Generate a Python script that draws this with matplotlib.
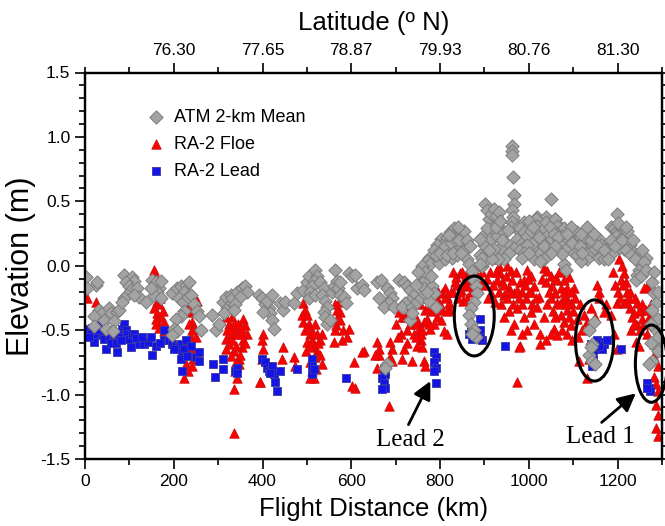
import matplotlib
matplotlib.use("Agg")
import matplotlib.pyplot as plt
from matplotlib.patches import Ellipse
from matplotlib.ticker import MultipleLocator, FixedLocator

plt.rcParams['font.family'] = ['Liberation Sans', 'DejaVu Sans']
plt.rcParams['axes.unicode_minus'] = False

# ---------------- data (km, m) ----------------
atm_km = [2,24,28,5,32,39,20,43,54,58,73,77,65,47,62,20,
          88,107,110,92,99,103,95,88,84,118,122,137,110,
          152,159,167,171,163,156,171,148,
          197,208,216,227,235,223,212,220,231,238,246,253,257,261,223,216,205,201,208,197,
          287,295,302,310,317,329,321,332,314,
          331,342,353,361,365,350,338,335,
          391,399,406,414,417,421,425,402,410,421,440,447,451,470,
          478,492,500,504,519,523,515,511,508,504,519,530,538,534,541,545,538,541,545,553,556,560,564,568,571,575,575,583,587,594,602,609,613,624,628,658,662,
          666,681,688,692,684,673,696,707,718,726,733,741,729,722,714,737,748,756,763,756,767,763,782,786,774,790,681,677,733,737,
          801,808,816,823,831,838,846,850,853,857,846,835,820,805,793,786,774,771,778,797,812,827,838,857,861,865,
          872,876,880,884,876,869,865,869,876,880,872,
          902,906,910,914,921,925,932,936,929,917,906,895,899,914,929,944,948,936,921,906,891,895,902,891,895,891,
          962,962,962,965,966,966,962,965,962,959,
          978,989,996,1000,981,974,985,993,966,981,
          1049,1199,1019,1038,1060,1068,
          981,989,996,1004,1015,1019,1026,1034,1038,1041,1030,1019,1008,996,989,985,1012,1026,1041,1045,1053,1060,1064,1072,1079,1075,1068,1079,1087,1094,1102,1109,1113,1105,1102,1109,1121,1124,1132,1128,1135,1143,1150,1158,1162,1165,1158,1169,1173,1181,1132,1117,1079,1083,1075,
          1184,1192,1199,1207,1214,1222,1196,1207,1218,1229,1226,1237,1244,1252,1263,1256,1248,1244,1241,1252,1214,1203,1192,1188,
          1278,1282,1286,1278,1290,1286,1282,1290,1278,1271,
          1147,1135,1143,1135,1143,1150,1139,
          790,800,810,815,825,830,835,842,848,855,860,868,820,840,760,765,750,745,770,780,
          940,952,955,945,930,918,910,925,935,
          1000,1010,1022,1035,1048,1056,1066,1090,1098,1115,1120,1140,1147,1155,1170,1178,1095,1085,1060,1050,1035,1025,1000,1118,1130,
          1185,1195,1210,1220,1230,1235,1240,1255,1260,1265,1200,1218,
          1282,1290,1275,1290,1276]
atm_elev = [-0.09,-0.15,-0.13,-0.17,-0.34,-0.37,-0.39,-0.42,-0.33,-0.37,-0.36,-0.34,-0.43,-0.49,-0.51,-0.47,
            -0.07,-0.09,-0.12,-0.13,-0.16,-0.19,-0.23,-0.25,-0.28,-0.17,-0.24,-0.28,-0.23,
            -0.11,-0.13,-0.17,-0.12,-0.20,-0.23,-0.25,-0.17,
            -0.21,-0.17,-0.16,-0.15,-0.13,-0.20,-0.25,-0.28,-0.24,-0.23,-0.30,-0.35,-0.39,-0.50,-0.35,-0.39,-0.41,-0.49,-0.51,-0.54,
            -0.38,-0.50,-0.45,-0.28,-0.24,-0.23,-0.33,-0.29,-0.37,
            -0.25,-0.20,-0.17,-0.16,-0.20,-0.24,-0.30,-0.34,
            -0.23,-0.25,-0.30,-0.33,-0.37,-0.42,-0.49,-0.36,-0.27,-0.23,-0.29,-0.34,-0.28,-0.29,
            -0.21,-0.19,-0.13,-0.08,-0.03,-0.08,-0.12,-0.16,-0.20,-0.25,-0.23,-0.13,-0.17,-0.23,-0.27,-0.32,-0.36,-0.40,-0.45,-0.42,-0.20,-0.16,-0.03,-0.12,-0.17,-0.13,-0.23,-0.24,-0.29,-0.06,-0.08,-0.07,-0.17,-0.15,-0.19,-0.13,-0.25,
            -0.11,-0.17,-0.21,-0.25,-0.29,-0.32,-0.32,-0.11,-0.13,-0.16,-0.19,-0.23,-0.27,-0.29,-0.32,-0.32,-0.28,-0.25,-0.21,-0.13,-0.11,-0.17,-0.16,-0.21,-0.27,-0.32,-0.76,-0.79,-0.42,-0.37,
            0.21,0.18,0.22,0.26,0.29,0.26,0.27,0.23,0.21,0.17,0.14,0.13,0.13,0.13,0.16,0.12,0.06,0.04,0.01,0.02,0.05,0.06,0.08,0.12,0.05,0.01,
            -0.04,-0.11,-0.16,-0.21,-0.28,-0.33,-0.38,-0.45,-0.50,-0.55,-0.53,
            0.48,0.43,0.36,0.40,0.44,0.39,0.42,0.35,0.31,0.29,0.29,0.22,0.16,0.21,0.23,0.26,0.18,0.14,0.13,0.09,0.08,0.00,0.04,0.21,0.06,0.01,
            0.93,0.89,0.86,0.69,0.55,0.48,0.43,0.38,0.34,0.30,
            0.31,0.34,0.29,0.23,0.26,0.21,0.18,0.16,0.14,0.12,
            0.52,0.40,0.38,0.38,0.36,0.31,
            0.29,0.26,0.23,0.27,0.36,0.31,0.26,0.29,0.34,0.23,0.18,0.14,0.17,0.16,0.10,0.06,0.05,0.10,0.13,0.18,0.21,0.36,0.31,0.27,0.29,0.23,0.19,0.18,0.14,0.23,0.27,0.26,0.21,0.16,0.10,0.08,0.19,0.26,0.21,0.14,0.10,0.17,0.13,0.21,0.16,0.09,0.06,0.05,0.13,0.14,0.05,0.04,0.01,-0.03,0.09,
            0.30,0.29,0.27,0.30,0.26,0.27,0.23,0.21,0.18,0.16,0.12,0.10,0.08,0.05,0.06,0.01,-0.03,-0.07,-0.11,-0.08,0.13,0.14,0.17,0.10,
            -0.13,-0.21,-0.29,-0.34,-0.41,-0.50,-0.61,-0.66,-0.74,-0.76,
            -0.44,-0.50,-0.61,-0.69,-0.74,-0.76,-0.63,
            0.08,0.10,0.15,0.08,0.18,0.10,0.20,0.20,0.10,0.27,0.20,0.15,0.24,0.30,0.00,-0.05,-0.05,-0.15,-0.20,-0.08,
            0.20,0.28,0.10,0.05,0.05,0.05,0.12,0.30,0.35,
            0.35,0.30,0.22,0.15,0.30,0.25,0.22,0.20,0.18,0.15,0.10,0.20,0.25,0.15,0.12,0.05,0.30,0.25,0.15,0.10,0.05,0.04,0.10,0.25,0.30,
            0.20,0.15,0.20,0.12,0.08,0.20,0.05,0.12,0.03,-0.03,0.33,0.30,
            -0.05,-0.20,-0.45,-0.55,-0.60]

floe_km = [5,2,24,28,
           156,159,159,163,167,156,163,171,159,167,178,178,
           231,238,242,246,238,235,246,227,242,223,253,
           318,325,321,318,325,318,329,
           331,335,338,331,342,335,346,338,357,361,354,365,357,354,350,346,342,
           402,399,402,399,395,
           447,444,470,474,
           492,496,500,492,504,496,508,500,511,515,523,519,508,530,534,523,530,534,515,511,
           564,568,575,568,575,564,560,579,594,579,605,609,628,624,658,662,658,
           335,335,395,508,602,
           662,654,688,692,688,692,684,
           714,737,718,711,714,707,726,733,741,748,752,756,748,760,763,767,756,763,771,767,775,782,778,786,793,801,805,797,790,805,812,816,820,823,808,816,
           833,837,844,829,840,848,856,859,870,867,874,863,852,908,915,923,
           929,933,936,929,940,948,951,959,962,955,966,944,974,981,989,996,1004,1011,1000,993,985,974,966,989,1004,1019,1023,1011,1034,1026,996,985,981,1026,974,977,
           1034,1041,1049,1038,1053,1064,1075,1079,1072,1060,1049,1064,1075,1083,1087,1090,1102,1094,1087,1072,1079,1094,1087,1098,1056,1049,1038,1064,1109,1124,1132,1139,1150,1158,1154,1158,1169,1173,1184,1192,1113,1132,1135,1199,1199,
           1203,1210,1214,1207,1218,1222,1226,1214,1229,1237,1244,1252,1256,1244,1263,1267,1260,1241,1248,1267,1282,1286,1282,1290,1282,1286,1290,1286,1290,1286,1290,
           830,838,845,850,855,860,865,870,878,885,890,895,900,
           905,912,920,925,932,938,945,950,958,965,970,978,985,992,998,1005,1008,955,945,1015,960,
           1030,1045,1055,1058,1068,1070,1080,1085,1095,1100,1105,1042,1060,1075,1090,1115,1120,1110,
           1190,1195,1200,1205,1212,1220,1228,1232,1240,1248,1255,1260,1250,1270,1275,1230,1238,
           700,705,720,725,730,740,745,755,760,770,775,780,785,795,800,810,815,825,745,760,
           488,502,506,513,518,526,497,520,
           328,340,345,352,360,340,330,
           165,170,160,175,
           235,240,228,244,250,232,
           572,566,582,590]
floe_elev = [-0.25,-0.53,-0.28,-0.37,
             -0.03,-0.09,-0.20,-0.27,-0.30,-0.33,-0.37,-0.40,-0.41,-0.48,-0.44,-0.51,
             -0.29,-0.36,-0.44,-0.48,-0.55,-0.63,-0.67,-0.76,-0.78,-0.87,-0.27,
             -0.40,-0.45,-0.50,-0.57,-0.61,-0.65,-0.53,
             -0.40,-0.45,-0.50,-0.58,-0.53,-0.66,-0.72,-0.82,-0.41,-0.46,-0.53,-0.53,-0.58,-0.63,-0.69,-0.76,-0.87,
             -0.53,-0.58,-0.65,-0.72,-0.90,
             -0.63,-0.72,-0.71,-0.78,
             -0.29,-0.34,-0.38,-0.44,-0.45,-0.50,-0.53,-0.59,-0.58,-0.63,-0.66,-0.71,-0.75,-0.58,-0.53,-0.53,-0.69,-0.76,-0.87,-0.82,
             -0.30,-0.34,-0.36,-0.41,-0.42,-0.50,-0.59,-0.21,-0.49,-0.58,-0.75,-0.95,-0.66,-0.67,-0.59,-0.69,-0.79,
             -0.96,-1.30,-0.90,-0.87,-0.93,
             -0.65,-0.69,-0.59,-0.65,-0.71,-0.74,-1.09,
             -0.72,-0.74,-0.65,-0.53,-0.40,-0.36,-0.50,-0.45,-0.53,-0.42,-0.49,-0.58,-0.62,-0.63,-0.74,-0.78,-0.53,-0.44,-0.41,-0.34,-0.33,-0.29,-0.49,-0.45,-0.40,-0.42,-0.34,-0.29,-0.25,-0.21,-0.17,-0.24,-0.29,-0.34,-0.51,-0.53,
             -0.13,-0.09,-0.06,-0.20,-0.25,-0.19,-0.11,-0.07,-0.02,-0.06,-0.11,-0.16,-0.27,-0.25,-0.21,-0.28,
             0.05,0.00,-0.06,-0.11,-0.13,-0.08,0.00,-0.04,-0.11,-0.17,-0.21,-0.23,-0.19,-0.13,-0.11,-0.03,-0.08,-0.16,-0.20,-0.25,-0.30,-0.33,-0.45,-0.40,-0.36,-0.32,-0.24,-0.45,-0.40,-0.53,-0.50,-0.53,-0.62,-0.61,-0.90,-0.63,
             -0.02,-0.04,-0.08,-0.13,-0.16,-0.11,-0.04,-0.11,-0.17,-0.21,-0.25,-0.29,-0.27,-0.24,-0.17,-0.09,-0.17,-0.29,-0.34,-0.38,-0.44,-0.46,-0.53,-0.58,-0.49,-0.53,-0.58,-0.54,-0.41,-0.38,-0.44,-0.33,-0.40,-0.20,-0.15,-0.25,-0.36,-0.30,-0.38,-0.53,-0.74,-0.87,-0.72,-0.29,-0.65,
             0.05,0.00,-0.06,-0.11,-0.13,-0.20,-0.25,-0.29,-0.33,-0.37,-0.29,-0.34,-0.41,-0.46,-0.34,-0.16,-0.17,-0.59,-0.62,-0.53,-0.61,-0.66,-0.71,-0.78,-0.86,-0.92,-0.97,-1.08,-1.16,-1.26,-1.32,
             -0.05,-0.15,-0.20,-0.05,-0.15,-0.25,-0.10,-0.20,-0.05,0.00,-0.10,-0.05,-0.15,
             -0.10,-0.05,-0.15,-0.05,-0.20,-0.30,-0.15,-0.25,-0.20,-0.30,-0.05,-0.25,-0.20,-0.15,-0.10,-0.20,-0.30,-0.35,-0.40,-0.25,-0.50,
             -0.10,-0.20,-0.35,-0.10,-0.05,-0.30,-0.20,-0.30,-0.20,-0.35,-0.25,-0.30,-0.40,-0.50,-0.40,-0.30,-0.50,-0.55,
             -0.05,-0.15,-0.20,-0.25,-0.15,-0.28,-0.20,-0.40,-0.25,-0.35,-0.30,-0.45,-0.50,-0.40,-0.30,-0.50,-0.45,
             -0.45,-0.55,-0.40,-0.60,-0.35,-0.30,-0.55,-0.30,-0.20,-0.25,-0.45,-0.15,-0.35,-0.20,-0.30,-0.25,-0.35,-0.20,-0.45,-0.50,
             -0.38,-0.47,-0.62,-0.52,-0.45,-0.60,-0.66,-0.80,
             -0.70,-0.62,-0.45,-0.48,-0.60,-0.75,-0.50,
             -0.12,-0.25,-0.45,-0.35,
             -0.45,-0.50,-0.62,-0.72,-0.55,-0.82,
             -0.28,-0.46,-0.50,-0.55]

lead_km = [5,16,13,24,20,35,39,43,47,54,62,65,73,77,84,88,92,95,99,103,107,110,122,133,141,148,152,178,178,189,197,205,212,216,219,216,223,227,238,250,257,219,257,
           289,293,312,312,338,342,342,399,406,410,414,421,425,417,429,432,440,477,511,511,511,515,587,
           673,677,669,673,677,669,786,790,786,790,786,790,865,869,876,884,891,887,895,891,947,
           1139,1143,1147,1154,1162,1169,1177,1165,1139,1143,1207,1267,1271,1274,1267,
           8,28,50,58,70,80,115,128,160,170,200,230,
           1150,1158,1145,880,873,890]
lead_elev = [-0.49,-0.48,-0.53,-0.54,-0.59,-0.46,-0.53,-0.57,-0.65,-0.55,-0.58,-0.53,-0.67,-0.53,-0.49,-0.45,-0.50,-0.53,-0.57,-0.63,-0.53,-0.53,-0.61,-0.61,-0.59,-0.55,-0.69,-0.50,-0.58,-0.58,-0.61,-0.62,-0.63,-0.61,-0.67,-0.72,-0.65,-0.58,-0.62,-0.71,-0.67,-0.82,-0.74,
             -0.76,-0.86,-0.72,-0.80,-0.82,-0.79,-0.83,-0.72,-0.75,-0.79,-0.82,-0.78,-0.84,-0.83,-0.90,-0.97,-0.82,-0.80,-0.72,-0.78,-0.84,-0.80,-0.87,
             -0.80,-0.84,-0.87,-0.91,-0.95,-0.96,-0.67,-0.71,-0.75,-0.79,-0.82,-0.91,-0.53,-0.50,-0.53,-0.51,-0.50,-0.55,-0.58,-0.41,-0.62,
             -0.61,-0.65,-0.62,-0.58,-0.59,-0.61,-0.58,-0.65,-0.72,-0.78,-0.65,-0.91,-0.95,-0.97,-0.95,
             -0.55,-0.50,-0.50,-0.60,-0.60,-0.58,-0.56,-0.55,-0.62,-0.60,-0.65,-0.70,
             -0.65,-0.62,-0.69,-0.55,-0.57,-0.56]

lat_tick_km = [200, 400, 600, 800, 1000, 1200]
lat_labels = ['76.30', '77.65', '78.87', '79.93', '80.76', '81.30']

# ---------------- figure ----------------
W, H = 665, 526
fig = plt.figure(figsize=(W / 100, H / 100), dpi=100)
L, R, T, B = 85, 662, 72.5, 459
ax = fig.add_axes([L / W, 1 - B / H, (R - L) / W, (B - T) / H])

h_floe = ax.scatter(floe_km, floe_elev, marker='^', s=46, c='#ff0000',
                    edgecolors='#c81010', linewidths=0.6, zorder=3, label='RA-2 Floe')
h_lead = ax.scatter(lead_km, lead_elev, marker='s', s=36, c='#1414e6',
                    edgecolors='#3a3aa0', linewidths=0.6, zorder=4, label='RA-2 Lead')
h_atm = ax.scatter(atm_km, atm_elev, marker='D', s=46, c='#a3a3a3',
                   edgecolors='#7d7d7d', linewidths=0.7, zorder=5, label='ATM 2-km Mean')

ax.set_xlim(0, 1300)
ax.set_ylim(-1.5, 1.5)
ax.xaxis.set_major_locator(MultipleLocator(200))
ax.xaxis.set_minor_locator(MultipleLocator(100))
ax.yaxis.set_major_locator(MultipleLocator(0.5))
ax.yaxis.set_minor_locator(MultipleLocator(0.1))
ax.yaxis.set_major_formatter(plt.FuncFormatter(lambda v, p: f"{v:.1f}"))
ax.tick_params(which='both', direction='out', width=1.2, labelsize=12.5,
               right=True, top=False)
ax.tick_params(which='major', length=7)
ax.tick_params(which='minor', length=4)
for s in ax.spines.values():
    s.set_linewidth(1.6)

ax.set_xlabel('Flight Distance (km)', fontsize=18.5, labelpad=6)
ax.set_ylabel('Elevation (m)', fontsize=22, labelpad=3)

ax2 = ax.twiny()
ax2.set_xlim(ax.get_xlim())
ax2.xaxis.set_major_locator(FixedLocator(lat_tick_km))
ax2.set_xticklabels(lat_labels)
ax2.xaxis.set_minor_locator(MultipleLocator(100))
ax2.tick_params(which='both', direction='out', width=1.2, labelsize=12.5)
ax2.tick_params(which='major', length=7)
ax2.tick_params(which='minor', length=4)
ax2.set_xlabel('Latitude (º N)', fontsize=18.5, labelpad=9)
for s in ax2.spines.values():
    s.set_linewidth(1.6)

# ellipses around leads
for (cx, cy, w, h) in [(877, -0.39, 90, 0.62), (1148, -0.58, 86, 0.63), (1276, -0.76, 72, 0.60)]:
    ax.add_patch(Ellipse((cx, cy), w, h, fill=False, edgecolor='black', lw=2.2, zorder=6, clip_on=False))

arrow = dict(arrowstyle='-|>,head_length=0.6,head_width=0.3', lw=2, color='black',
             relpos=(0.45, 1.0), shrinkA=1, shrinkB=0)
ax.annotate('Lead 2', xy=(778, -0.895), xytext=(732, -1.35), ha='center', va='center',
            fontsize=18, family=['Liberation Serif', 'DejaVu Serif'], arrowprops=arrow, zorder=7)
ax.annotate('Lead 1', xy=(1241, -0.99), xytext=(1162, -1.33), ha='center', va='center',
            fontsize=18, family=['Liberation Serif', 'DejaVu Serif'], arrowprops=arrow, zorder=7)

leg = ax.legend(handles=[h_atm, h_floe, h_lead], loc='upper left', bbox_to_anchor=(0.085, 0.938),
                frameon=False, fontsize=13, handlelength=1.0, handletextpad=0.5,
                labelspacing=0.55, borderpad=0.2, scatterpoints=1)

fig.savefig('out.png', dpi=100)
